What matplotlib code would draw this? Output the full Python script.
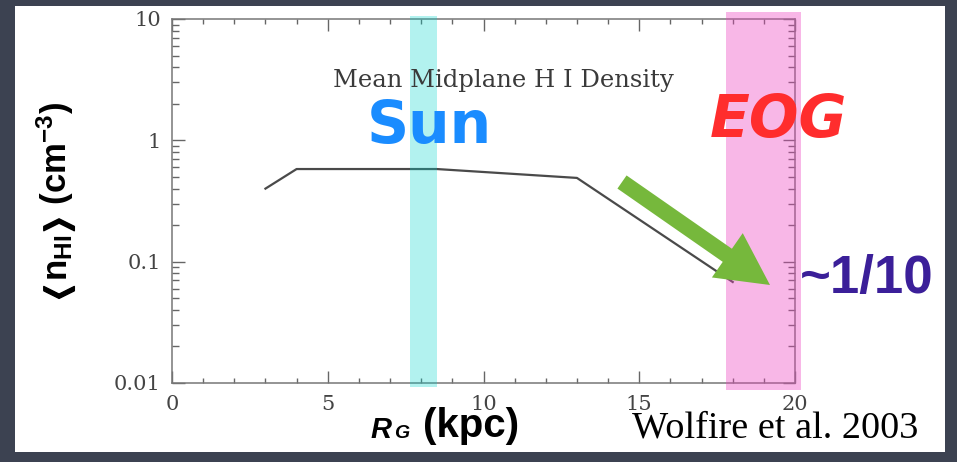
import matplotlib
matplotlib.use("Agg")
import matplotlib.pyplot as plt
import matplotlib.patheffects as pe
from matplotlib.patches import Rectangle, FancyArrow
from matplotlib.ticker import FixedLocator, NullFormatter, LogLocator

plt.rcParams['mathtext.fontset'] = 'custom'
plt.rcParams['mathtext.rm'] = 'Liberation Sans:bold'
plt.rcParams['mathtext.it'] = 'Liberation Sans:bold:italic'
plt.rcParams['mathtext.bf'] = 'Liberation Sans:bold'

# ---- data ----
R_kpc = [3.0, 4.0, 8.5, 13.0, 18.0]
n_HI = [0.40, 0.58, 0.58, 0.49, 0.068]
sun_band = (7.65, 8.5)
eog_band = (17.8, 20.2)
x_ticks = [0, 5, 10, 15, 20]
x_ticklabels = ['0', '5', '10', '15', '20']
y_ticks = [0.01, 0.1, 1, 10]
y_ticklabels = ['0.01', '0.1', '1', '10']

W, H = 957, 462
fig = plt.figure(figsize=(W / 100, H / 100), dpi=100)
fig.patch.set_facecolor('#3c4251')

# background overlay (pixel coordinates)
back = fig.add_axes([0, 0, 1, 1], zorder=0)
back.set_xlim(0, W); back.set_ylim(H, 0); back.axis('off')
back.add_patch(Rectangle((15, 6), 930, 446, facecolor='white', edgecolor='none'))

# main axes
L, Rr, T, B = 172, 795, 19, 383
ax = fig.add_axes([L / W, 1 - B / H, (Rr - L) / W, (B - T) / H], zorder=1)
ax.set_facecolor('white')
ax.plot(R_kpc, n_HI, color='#4a4a4a', lw=1.6, zorder=2)
ax.set_yscale('log')
ax.set_xlim(0, 20)
ax.set_ylim(0.01, 10)

ax.xaxis.set_major_locator(FixedLocator(x_ticks))
ax.xaxis.set_minor_locator(FixedLocator(list(range(0, 21))))
ax.set_xticklabels(x_ticklabels)
ax.yaxis.set_major_locator(FixedLocator(y_ticks))
ax.yaxis.set_minor_locator(LogLocator(base=10, subs=range(2, 10)))
ax.yaxis.set_minor_formatter(NullFormatter())
ax.set_yticklabels(y_ticklabels)

tc = '#666666'
for s in ax.spines.values():
    s.set_color('#777777'); s.set_linewidth(1.1)
ax.tick_params(axis='both', which='both', direction='in', top=True, right=True, color=tc, width=1.0)
ax.tick_params(axis='x', which='major', length=8.5, pad=9)
ax.tick_params(axis='x', which='minor', length=3.5)
ax.tick_params(axis='y', which='major', length=9, pad=8)
ax.tick_params(axis='y', which='minor', length=5)
for lab in ax.get_xticklabels() + ax.get_yticklabels():
    lab.set_fontfamily('DejaVu Serif'); lab.set_fontsize(15); lab.set_color('#444444')

# bands
ax.axvspan(*sun_band, ymin=-0.011, ymax=1.008, color='#00d4cc', alpha=0.3, lw=0, clip_on=False, zorder=3)
ax.axvspan(*eog_band, ymin=-0.019, ymax=1.019, color='#ee44c0', alpha=0.38, lw=0, clip_on=False, zorder=3)

# front overlay (pixel coordinates)
front = fig.add_axes([0, 0, 1, 1], zorder=5)
front.set_xlim(0, W); front.set_ylim(H, 0); front.axis('off')
front.patch.set_alpha(0)

front.text(503, 80, 'Mean Midplane H I Density', family='DejaVu Serif', fontsize=17.5,
           color='#3a3a3a', ha='center', va='center')
front.text(367, 143, 'Sun', family='DejaVu Sans', fontweight='bold', fontsize=42,
           color='#1a8cff', ha='left', va='baseline')
front.text(710, 137, 'EOG', family='DejaVu Sans', fontweight='bold', style='italic', fontsize=42,
           color='#ff2d2d', ha='left', va='baseline')
front.text(800, 293, '~1/10', family='Liberation Sans', fontweight='bold', fontsize=38,
           color='#3b1f99', ha='left', va='baseline')

front.add_patch(FancyArrow(622, 182, 148, 103, width=16, head_width=54, head_length=52,
                           length_includes_head=True, color='#76b83c', lw=0))

# y label, built from pieces going upward
renderer = fig.canvas.get_renderer()
bold = dict(family='Liberation Sans', fontweight='bold', fontsize=25)
chev = dict(family='DejaVu Sans', fontweight='normal', fontsize=22,
            path_effects=[pe.withStroke(linewidth=1.0, foreground='black')])
# (text, props, pre-shift, advance factor)
pieces = [('\u276c', chev, -3, 0.82), ('n$_{\\mathrm{HI}}$', bold, 0, 1.0),
          ('\u276d', chev, -3, 0.82), (' (cm$^{\\mathrm{-3}}$)', bold, 0, 1.0)]
ypos = 302
for s, props, pre, adv in pieces:
    t = front.text(67, ypos - pre, s, rotation=90, rotation_mode='anchor', ha='left',
                   va='baseline', color='black', **props)
    bb = t.get_window_extent(renderer)
    ypos -= bb.height * adv

# x label
front.text(370, 438, 'R', family='Liberation Sans', fontweight='bold', style='italic', fontsize=21,
           color='black', ha='left', va='baseline')
front.text(394, 438, 'G', family='Liberation Sans', fontweight='bold', style='italic', fontsize=14,
           color='black', ha='left', va='baseline')
front.text(423, 437, '(kpc)', family='Liberation Sans', fontweight='bold', fontsize=29,
           color='black', ha='left', va='baseline')
front.text(632, 437, 'Wolfire et al. 2003', family='Liberation Serif', fontsize=27.5,
           color='black', ha='left', va='baseline')

fig.savefig('out.png', dpi=100, facecolor=fig.get_facecolor())
